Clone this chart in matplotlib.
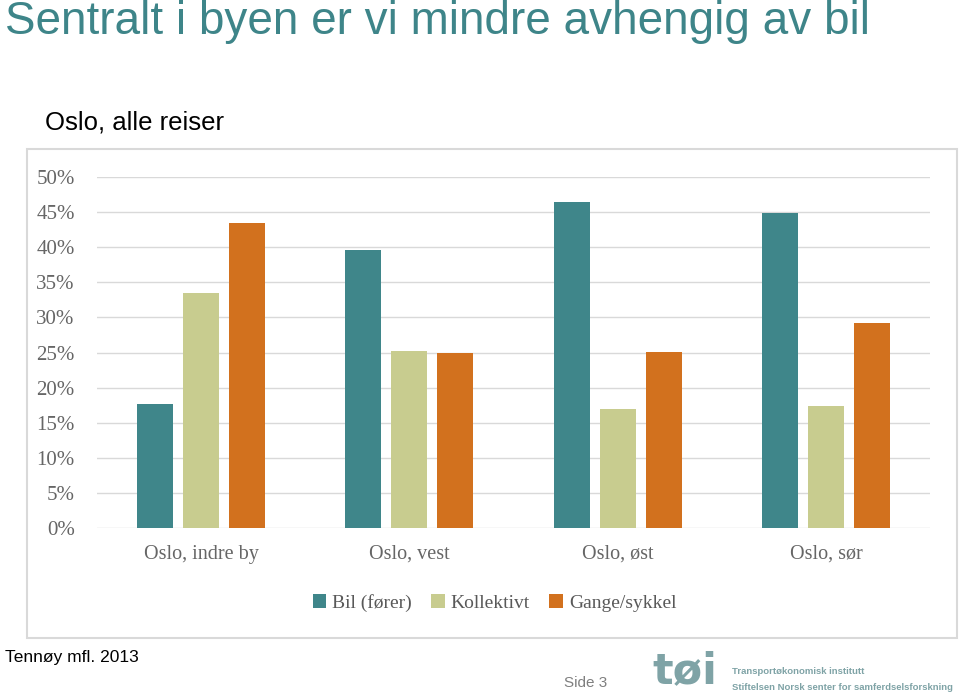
import matplotlib
matplotlib.use("Agg")
import matplotlib.pyplot as plt
from matplotlib.patches import Rectangle
import numpy as np

categories = ["Oslo, indre by", "Oslo, vest", "Oslo, øst", "Oslo, sør"]
series_names = ["Bil (fører)", "Kollektivt", "Gange/sykkel"]
bil = [17.7, 39.6, 46.4, 44.9]
kollektivt = [33.5, 25.2, 17.0, 17.4]
gange = [43.4, 24.9, 25.1, 29.2]
yticks = [0, 5, 10, 15, 20, 25, 30, 35, 40, 45, 50]
ytick_labels = [f"{v}%" for v in yticks]

colors = ["#3F868A", "#C8CC8F", "#D2711E"]
teal = "#3E8589"
serif = ["Liberation Serif", "DejaVu Serif"]

fig = plt.figure(figsize=(9.6, 6.94), dpi=100)

# chart border
fig.patches.append(Rectangle((0.028, 0.081), 0.969, 0.704, transform=fig.transFigure,
                             fill=False, edgecolor="#D9D9D9", linewidth=1.5))

ax = fig.add_axes([0.101, 0.239, 0.868, 0.506])
x = np.arange(len(categories))
w = 0.173
off = 0.221
for i, (vals, name) in enumerate(zip([bil, kollektivt, gange], series_names)):
    ax.bar(x + (i - 1) * off, vals, width=w, color=colors[i], label=name, zorder=3)

ax.set_xlim(-0.5, 3.5)
ax.set_ylim(0, 50)
ax.set_yticks(yticks)
ax.set_yticklabels(ytick_labels, fontfamily=serif, fontsize=15, color="#666666")
ax.set_xticks(x)
ax.set_xticklabels(categories, fontfamily=serif, fontsize=14.5, color="#666666")
ax.tick_params(axis="both", length=0)
ax.tick_params(axis="y", pad=16)
ax.tick_params(axis="x", pad=12)
ax.grid(axis="y", color="#D9D9D9", linewidth=1, zorder=0)
for s in ax.spines.values():
    s.set_visible(False)

leg = fig.legend(loc="center", bbox_to_anchor=(0.515, 0.131), ncol=3, frameon=False,
                 prop={"family": serif, "size": 14}, handlelength=0.7, handleheight=0.7,
                 handletextpad=0.3, columnspacing=1.0)
for t in leg.get_texts():
    t.set_color("#595959")

fig.text(0.005, 0.968, "Sentralt i byen er vi mindre avhengig av bil", fontsize=33,
         color=teal, family="Liberation Sans", va="center", ha="left")
fig.text(0.047, 0.823, "Oslo, alle reiser", fontsize=18.5, color="black",
         family="Liberation Sans", va="center", ha="left")
fig.text(0.005, 0.053, "Tennøy mfl. 2013", fontsize=12.5, color="black",
         family="Liberation Sans", va="center", ha="left")
fig.text(0.587, 0.016, "Side 3", fontsize=11, color="#7F7F7F",
         family="Liberation Sans", va="center", ha="left")
fig.text(0.680, 0.003, "tøi", fontsize=31, color="#7FA3A6", family="DejaVu Sans",
         weight="bold", va="bottom", ha="left")
fig.text(0.763, 0.032, "Transportøkonomisk institutt", fontsize=6.8, color="#7FA3A6",
         family="Liberation Sans", weight="bold", va="center", ha="left")
fig.text(0.763, 0.010, "Stiftelsen Norsk senter for samferdselsforskning", fontsize=6.8,
         color="#7FA3A6", family="Liberation Sans", weight="bold", va="center", ha="left")

fig.savefig("out.png", dpi=100)
